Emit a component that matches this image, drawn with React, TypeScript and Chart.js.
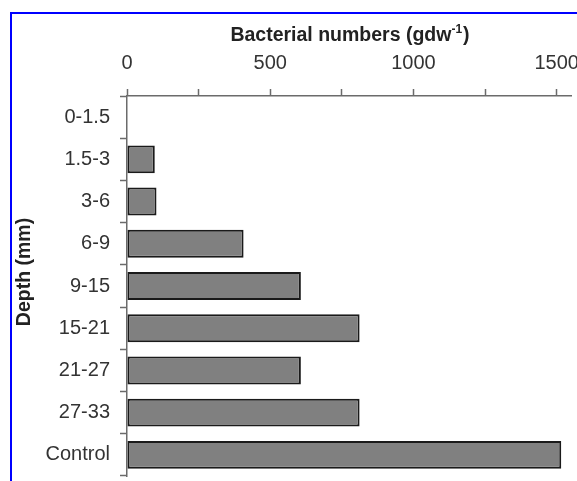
import React, { useEffect, useRef } from "react";
import { Chart, registerables } from "chart.js";

Chart.register(...registerables);

const categories = ["0-1.5", "1.5-3", "3-6", "6-9", "9-15", "15-21", "21-27", "27-33", "Control"];
const bacterialNumbers = [0, 97, 103, 407, 607, 812, 607, 812, 1516];
const xTickValues = [0, 250, 500, 750, 1000, 1250, 1500];
const xLabelValues = [0, 500, 1000, 1500];
const xMax = 1550;
const xTitleMain = "Bacterial numbers (gdw";
const xTitleSup = "-1";
const xTitleEnd = ")";
const yTitle = "Depth (mm)";

const FONT = "'Liberation Sans', Arial, sans-serif";

export default function App() {
  const ref = useRef<HTMLCanvasElement | null>(null);

  useEffect(() => {
    document.body.style.margin = "0";
    const canvas = ref.current;
    if (!canvas) return;

    const titlesPlugin = {
      id: "customTitles",
      afterDraw(chart: any) {
        const ctx = chart.ctx as CanvasRenderingContext2D;
        ctx.save();
        ctx.fillStyle = "#222";
        const mainFont = `bold 19.5px ${FONT}`;
        const supFont = `bold 12px ${FONT}`;
        ctx.font = mainFont;
        const wMain = ctx.measureText(xTitleMain).width;
        const wEnd = ctx.measureText(xTitleEnd).width;
        ctx.font = supFont;
        const wSup = ctx.measureText(xTitleSup).width;
        const total = wMain + wSup + wEnd + 1;
        const cx = 350;
        const baseY = 41;
        let x = cx - total / 2;
        ctx.textBaseline = "alphabetic";
        ctx.textAlign = "left";
        ctx.font = mainFont;
        ctx.fillText(xTitleMain, x, baseY);
        x += wMain;
        ctx.font = supFont;
        ctx.fillText(xTitleSup, x, baseY - 8);
        x += wSup + 1;
        ctx.font = mainFont;
        ctx.fillText(xTitleEnd, x, baseY);

        ctx.translate(25, 272);
        ctx.rotate(-Math.PI / 2);
        ctx.font = `bold 19.5px ${FONT}`;
        ctx.textAlign = "center";
        ctx.textBaseline = "middle";
        ctx.fillText(yTitle, 0, 0);
        ctx.restore();
      },
    };

    const chart = new Chart(canvas, {
      type: "bar",
      data: {
        labels: categories,
        datasets: [
          {
            data: bacterialNumbers,
            backgroundColor: "#808080",
            borderColor: "#1a1a1a",
            borderWidth: 2,
            borderSkipped: false,
            barPercentage: 0.66,
            categoryPercentage: 1,
          },
        ],
      },
      options: {
        indexAxis: "y",
        responsive: false,
        animation: false,
        layout: { padding: { left: 0, top: 0, right: 6, bottom: 5 } },
        plugins: {
          legend: { display: false },
          tooltip: { enabled: false },
          title: { display: false },
        },
        scales: {
          x: {
            type: "linear",
            position: "top",
            min: 0,
            max: xMax,
            afterBuildTicks: (s: any) => {
              s.ticks = xTickValues.map((v) => ({ value: v }));
            },
            afterFit: (s: any) => {
              s.height = 96;
              s.paddingLeft = 0;
              s.paddingRight = 0;
            },
            ticks: {
              autoSkip: false,
              maxRotation: 0,
              minRotation: 0,
              padding: 14,
              color: "#333",
              font: { family: FONT, size: 20 },
              callback: (v: any) => (xLabelValues.includes(Number(v)) ? String(v) : ""),
            },
            grid: {
              drawOnChartArea: false,
              drawTicks: true,
              tickLength: 7,
              tickColor: "#6b6b6b",
              tickWidth: 1.5,
            },
            border: { display: true, color: "#6b6b6b", width: 1.5 },
          },
          y: {
            type: "category",
            afterFit: (s: any) => {
              s.width = 127;
              s.paddingTop = 0;
              s.paddingBottom = 0;
            },
            ticks: {
              padding: 10,
              color: "#333",
              font: { family: FONT, size: 20 },
            },
            grid: {
              offset: true,
              drawOnChartArea: false,
              drawTicks: true,
              tickLength: 7,
              tickColor: "#6b6b6b",
              tickWidth: 1.5,
            },
            border: { display: true, color: "#6b6b6b", width: 1.5 },
          },
        },
      },
      plugins: [titlesPlugin],
    });

    return () => chart.destroy();
  }, []);

  return (
    <div style={{ position: "absolute", left: 0, top: 0, width: 577, height: 481, overflow: "hidden", background: "#fff" }}>
      <canvas ref={ref} width={577} height={481} style={{ position: "absolute", left: 0, top: 0, width: 577, height: 481 }} />
      <div
        style={{
          position: "absolute",
          left: 10,
          top: 12,
          width: 700,
          height: 700,
          borderLeft: "2px solid #0000ff",
          borderTop: "2px solid #0000ff",
          pointerEvents: "none",
        }}
      />
    </div>
  );
}
